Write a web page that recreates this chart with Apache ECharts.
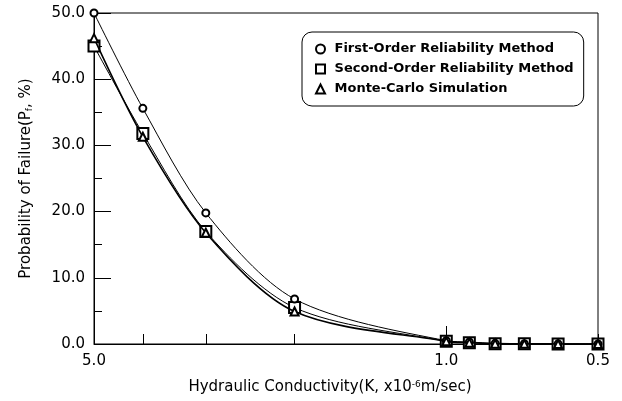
<!DOCTYPE html>
<html>
<head>
<meta charset="utf-8">
<script src="https://cdn.jsdelivr.net/npm/echarts@6/dist/echarts.min.js"></script>
<style>
  html, body { margin: 0; padding: 0; background: #fff; }
  #chart { width: 622px; height: 401px; }
</style>
</head>
<body>
<div id="chart"></div>
<script>
// hydraulic conductivity K (x10^-6 m/sec), plotted on a reversed log axis
const kValues = [5.0, 4.0, 3.0, 2.0, 1.0, 0.9, 0.8, 0.7, 0.6, 0.5]
// probability of failure Pf (%)
const formValues = [50.0, 35.6, 19.8, 6.8, 0.5, 0.3, 0.1, 0.05, 0.02, 0.01]
const sormValues = [45.0, 31.8, 17.0, 5.5, 0.4, 0.2, 0.05, 0.02, 0.01, 0.0]
const mcsValues = [46.2, 31.3, 16.8, 4.9, 0.4, 0.2, 0.05, 0.02, 0.01, 0.0]

const xTickValues = [5, 4, 3, 2, 1, 0.5]
const xLongTickValues = [1]
const xLabelValues = [5, 1, 0.5]
const yTicks = [0, 10, 20, 30, 40, 50]

const seriesNames = [
  'First-Order Reliability Method',
  'Second-Order Reliability Method',
  'Monte-Carlo Simulation'
]

const font = 'DejaVu Sans'
const chart = echarts.init(document.getElementById('chart'))

function pairs(values) {
  return kValues.map((k, i) => [k, values[i]])
}

const baseX = {
  type: 'log',
  logBase: 10,
  min: 0.5,
  max: 5,
  inverse: true,
  position: 'bottom',
  splitLine: { show: false },
  minorTick: { show: false }
}

chart.setOption({
  animation: false,
  backgroundColor: '#fff',
  grid: {
    left: 94,
    right: 24,
    top: 13,
    bottom: 57,
    show: true,
    borderColor: '#000',
    borderWidth: 1,
    containLabel: false
  },
  legend: {
    left: 302,
    top: 32,
    orient: 'vertical',
    padding: [9, 10, 9, 13],
    itemGap: 4,
    itemWidth: 9,
    itemHeight: 9,
    borderColor: '#000',
    borderWidth: 1,
    borderRadius: 10,
    formatter: name => ' ' + name,
    textStyle: { fontFamily: font, fontSize: 13, fontWeight: 'bold', color: '#000', lineHeight: 16 },
    data: [
      { name: seriesNames[0], icon: 'emptyCircle' },
      { name: seriesNames[1], icon: 'emptyRect' },
      { name: seriesNames[2], icon: 'emptyTriangle' }
    ]
  },
  xAxis: [
    Object.assign({}, baseX, {
      name: 'Hydraulic Conductivity(K, x10{sup|-6}m/sec)',
      nameLocation: 'middle',
      nameGap: 36,
      nameTextStyle: {
        fontFamily: font,
        fontSize: 15,
        color: '#000',
        padding: [0, 32, 0, 0],
        rich: {
          sup: { fontFamily: font, fontSize: 9, verticalAlign: 'top', color: '#000' }
        }
      },
      axisLine: { show: true, lineStyle: { color: '#000', width: 1 } },
      axisTick: {
        show: true,
        inside: true,
        length: 10,
        customValues: xTickValues,
        lineStyle: { color: '#000' }
      },
      axisLabel: {
        customValues: xLabelValues,
        margin: 10,
        fontFamily: font,
        fontSize: 15,
        color: '#000',
        formatter: v => Number(v).toFixed(1)
      }
    }),
    Object.assign({}, baseX, {
      axisLine: { show: false },
      axisTick: {
        show: true,
        inside: true,
        length: 18,
        customValues: xLongTickValues,
        lineStyle: { color: '#000' }
      },
      axisLabel: { show: false }
    })
  ],
  yAxis: {
    type: 'value',
    min: 0,
    max: 50,
    interval: 10,
    name: 'Probability of Failure(P{sub|f}, %)',
    nameLocation: 'middle',
    nameGap: 60,
    nameTextStyle: {
      fontFamily: font,
      fontSize: 15,
      color: '#000',
      rich: {
        sub: { fontFamily: font, fontSize: 9, verticalAlign: 'bottom', color: '#000' }
      }
    },
    axisLine: { show: true, lineStyle: { color: '#000', width: 1 } },
    axisTick: { show: true, inside: true, length: 17, lineStyle: { color: '#000' } },
    minorTick: { show: true, splitNumber: 2, length: 8, lineStyle: { color: '#000' } },
    splitLine: { show: false },
    axisLabel: {
      customValues: yTicks,
      margin: 9,
      fontFamily: font,
      fontSize: 15,
      color: '#000',
      formatter: v => v.toFixed(1)
    }
  },
  series: [
    {
      name: seriesNames[0],
      type: 'line',
      data: pairs(formValues),
      smooth: 0.3,
      symbol: 'emptyCircle',
      symbolSize: 7,
      color: '#000',
      lineStyle: { color: '#000', width: 1 },
      itemStyle: { color: '#000', borderWidth: 1 },
      z: 3
    },
    {
      name: seriesNames[1],
      type: 'line',
      data: pairs(sormValues),
      smooth: 0.3,
      symbol: 'emptyRect',
      symbolSize: 11,
      color: '#000',
      lineStyle: { color: '#000', width: 1 },
      itemStyle: { color: '#000', borderWidth: 1.5 },
      z: 2
    },
    {
      name: seriesNames[2],
      type: 'line',
      data: pairs(mcsValues),
      smooth: 0.3,
      symbol: 'emptyTriangle',
      symbolSize: 8,
      color: '#000',
      lineStyle: { color: '#000', width: 1.6 },
      itemStyle: { color: '#000', borderWidth: 1 },
      z: 4
    }
  ]
})

window.addEventListener('resize', () => chart.resize())
</script>
</body>
</html>
